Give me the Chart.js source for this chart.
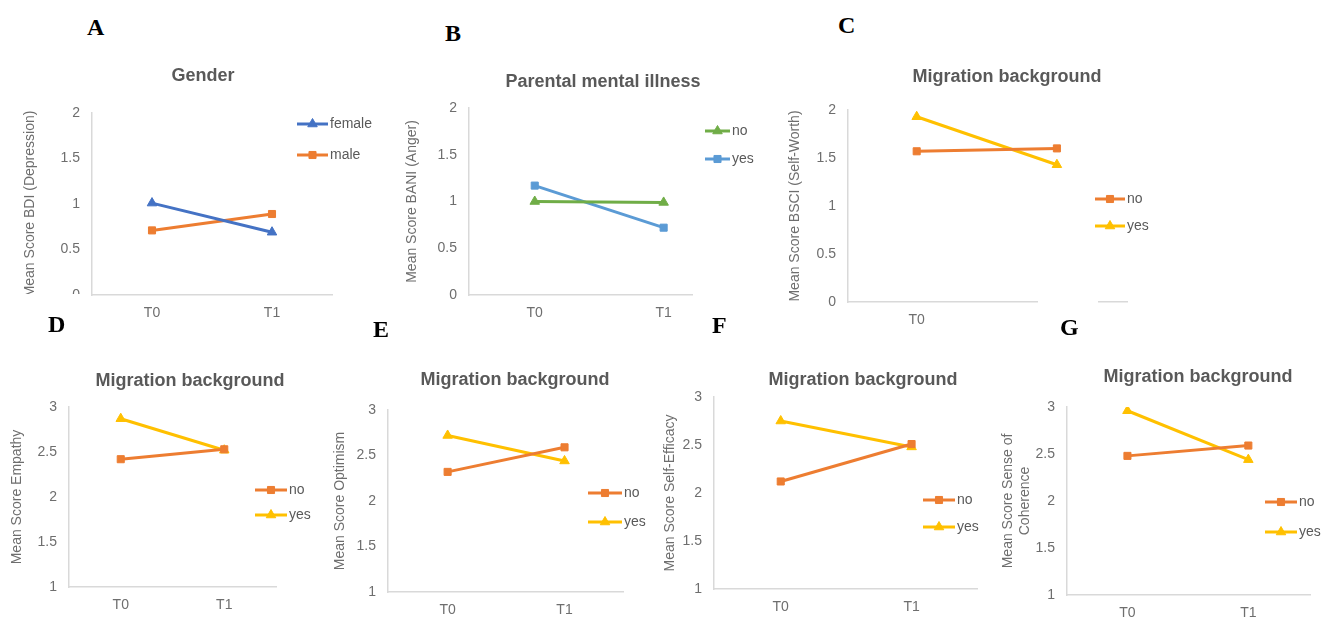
<!DOCTYPE html>
<html>
<head>
<meta charset="utf-8">
<title>Interaction plots</title>
<script src="https://cdn.jsdelivr.net/npm/chart.js@4.4.1/dist/chart.umd.min.js"></script>
<style>
  body { margin: 0; background: #fff; width: 1332px; height: 619px; position: relative; overflow: hidden; }
  canvas { position: absolute; }
  .letter { position: absolute; z-index: 3; font: bold 24px "Liberation Serif", "Times New Roman", serif; line-height: 24px; color: #000; }
  .mask { position: absolute; z-index: 2; background: #fff; }
</style>
</head>
<body>
<!-- white boxes of the panel labels D and G cover parts of A and C -->
<div class="mask" style="left:0;top:294px;width:90px;height:40px"></div>
<div class="mask" style="left:1038px;top:297px;width:60px;height:38px"></div>

<div class="letter" style="left:87px;top:15px">A</div>
<div class="letter" style="left:445px;top:21px">B</div>
<div class="letter" style="left:838px;top:13px">C</div>
<div class="letter" style="left:48px;top:312px">D</div>
<div class="letter" style="left:373px;top:317px">E</div>
<div class="letter" style="left:712px;top:313px">F</div>
<div class="letter" style="left:1060px;top:315px">G</div>

<script>
// Zeitpunkte
const timepoints = ["T0", "T1"];

// Mittelwerte je Gruppe
const genderFemale = [1.01, 0.69];
const genderMale = [0.71, 0.89];
const angerNo = [1.0, 0.99];
const angerYes = [1.17, 0.72];
const selfWorthNo = [1.57, 1.60];
const selfWorthYes = [1.93, 1.43];
const empathyNo = [2.42, 2.53];
const empathyYes = [2.87, 2.52];
const optimismNo = [2.32, 2.59];
const optimismYes = [2.72, 2.44];
const selfEfficacyNo = [2.12, 2.51];
const selfEfficacyYes = [2.75, 2.48];
const coherenceNo = [2.48, 2.59];
const coherenceYes = [2.96, 2.44];

const BLUE = "#4472C4";
const LIGHTBLUE = "#5B9BD5";
const ORANGE = "#ED7D31";
const YELLOW = "#FFC000";
const GREEN = "#70AD47";
const TEXT = "#595959";
const TICK = "#6e6e6e";
const AXIS = "#d9d9d9";
const FONT = '"Liberation Sans", Arial, sans-serif';

const migration = (no, yes) => [
  { label: "no", values: no, color: ORANGE, marker: "rect" },
  { label: "yes", values: yes, color: YELLOW, marker: "triangle" }
];

// box = canvas [x0, y0, x1, y1], plot = chart area [l, t, r, b], legend = [x, y, gap, lineLen]
const panels = [
  { title: "Gender", titleX: 203, titleY: 76, yTitle: "Mean Score BDI (Depression)",
    box: [22, 55, 380, 325], plot: [92, 113, 332, 295], xRange: [-0.5, 1.5], yRange: [0, 2],
    legend: [297, 124, 31, 31],
    series: [
      { label: "female", values: genderFemale, color: BLUE, marker: "triangle" },
      { label: "male", values: genderMale, color: ORANGE, marker: "rect" }
    ] },
  { title: "Parental mental illness", titleX: 603, titleY: 82, yTitle: "Mean Score BANI (Anger)",
    box: [404, 60, 765, 325], plot: [469, 108, 692, 295], xRange: [-0.51, 1.22], yRange: [0, 2],
    legend: [705, 131, 28, 25],
    series: [
      { label: "no", values: angerNo, color: GREEN, marker: "triangle" },
      { label: "yes", values: angerYes, color: LIGHTBLUE, marker: "rect" }
    ] },
  { title: "Migration background", titleX: 1007, titleY: 77, yTitle: "Mean Score BSCI (Self-Worth)",
    box: [787, 55, 1180, 332], plot: [848, 110, 1127, 302], xRange: [-0.49, 1.5], yRange: [0, 2],
    legend: [1095, 199, 27, 30], series: migration(selfWorthNo, selfWorthYes) },
  { title: "Migration background", titleX: 190, titleY: 381, yTitle: "Mean Score Empathy",
    box: [9, 360, 325, 619], plot: [69, 407, 276, 587], xRange: [-0.5, 1.5], yRange: [1, 3],
    legend: [255, 490, 25, 32], series: migration(empathyNo, empathyYes) },
  { title: "Migration background", titleX: 515, titleY: 380, yTitle: "Mean Score Optimism",
    box: [332, 360, 660, 619], plot: [388, 410, 623, 592], xRange: [-0.51, 1.5], yRange: [1, 3],
    legend: [588, 493, 29, 34], series: migration(optimismNo, optimismYes) },
  { title: "Migration background", titleX: 863, titleY: 380, yTitle: "Mean Score Self-Efficacy",
    box: [662, 360, 1000, 619], plot: [714, 397, 977, 589], xRange: [-0.51, 1.5], yRange: [1, 3],
    legend: [923, 500, 27, 32], series: migration(selfEfficacyNo, selfEfficacyYes) },
  { title: "Migration background", titleX: 1198, titleY: 377, yTitle: ["Mean Score Sense of", "Coherence"],
    box: [1000, 360, 1332, 619], plot: [1067, 407, 1310, 595], xRange: [-0.5, 1.51], yRange: [1, 3],
    legend: [1265, 502, 30, 32], series: migration(coherenceNo, coherenceYes) }
];

panels.forEach((p) => {
  const [x0, y0, x1, y1] = p.box;
  const [l, t, r, b] = p.plot;
  const canvas = document.createElement("canvas");
  canvas.width = x1 - x0;
  canvas.height = y1 - y0;
  canvas.style.left = x0 + "px";
  canvas.style.top = y0 + "px";
  document.body.appendChild(canvas);

  // Titel + Legende im Excel-Stil
  const decor = {
    id: "decor",
    afterDraw(chart) {
      const ctx = chart.ctx;
      ctx.save();
      ctx.fillStyle = TEXT;
      ctx.font = "bold 18px " + FONT;
      ctx.textAlign = "center";
      ctx.textBaseline = "middle";
      ctx.fillText(p.title, p.titleX - x0, p.titleY - y0);

      ctx.font = "14px " + FONT;
      ctx.textAlign = "left";
      chart.data.datasets.forEach((ds, i) => {
        const lx = p.legend[0] - x0;
        const ly = p.legend[1] + i * p.legend[2] - y0;
        const len = p.legend[3];
        ctx.strokeStyle = ds.borderColor;
        ctx.lineWidth = 3;
        ctx.beginPath();
        ctx.moveTo(lx, ly);
        ctx.lineTo(lx + len, ly);
        ctx.stroke();
        ctx.fillStyle = ds.borderColor;
        ctx.lineWidth = 1;
        Chart.helpers.drawPoint(ctx, { pointStyle: ds.pointStyle, radius: ds.pointRadius, borderWidth: 1, rotation: 0 }, lx + len / 2, ly);
        ctx.fillStyle = TEXT;
        ctx.fillText(ds.label, lx + len + 2, ly);
      });
      ctx.restore();
    }
  };

  new Chart(canvas, {
    type: "line",
    data: {
      datasets: p.series.map((s) => ({
        label: s.label,
        data: s.values.map((v, i) => ({ x: i, y: v })),
        borderColor: s.color,
        backgroundColor: s.color,
        pointBackgroundColor: s.color,
        pointBorderColor: s.color,
        borderWidth: 3,
        pointStyle: s.marker,
        pointRadius: s.marker === "rect" ? 5 : 5.5,
        pointBorderWidth: 1,
        tension: 0
      }))
    },
    options: {
      responsive: false,
      animation: false,
      devicePixelRatio: 1,
      layout: { padding: { left: 0, top: t - y0, right: x1 - r, bottom: 0 } },
      plugins: { legend: { display: false }, tooltip: { enabled: false } },
      scales: {
        x: {
          type: "linear",
          min: p.xRange[0],
          max: p.xRange[1],
          afterBuildTicks: (s) => { s.ticks = timepoints.map((_, i) => ({ value: i })); },
          afterFit: (s) => { s.height = y1 - b; },
          grid: { display: false, drawTicks: false },
          border: { display: true, color: AXIS, width: 1.5 },
          ticks: { padding: 10, maxRotation: 0, color: TICK, font: { family: FONT, size: 14 },
                   callback: (v) => timepoints[v] ?? "" }
        },
        y: {
          min: p.yRange[0],
          max: p.yRange[1],
          afterFit: (s) => { s.width = l - x0; },
          grid: { display: false, drawTicks: false },
          border: { display: true, color: AXIS, width: 1.5 },
          ticks: { stepSize: 0.5, padding: 12, color: TICK, font: { family: FONT, size: 14 },
                   callback: (v) => String(Math.round(v * 10) / 10) },
          title: { display: true, text: p.yTitle, padding: 0, color: TICK, font: { family: FONT, size: 14 } }
        }
      }
    },
    plugins: [decor]
  });
});
</script>
</body>
</html>
